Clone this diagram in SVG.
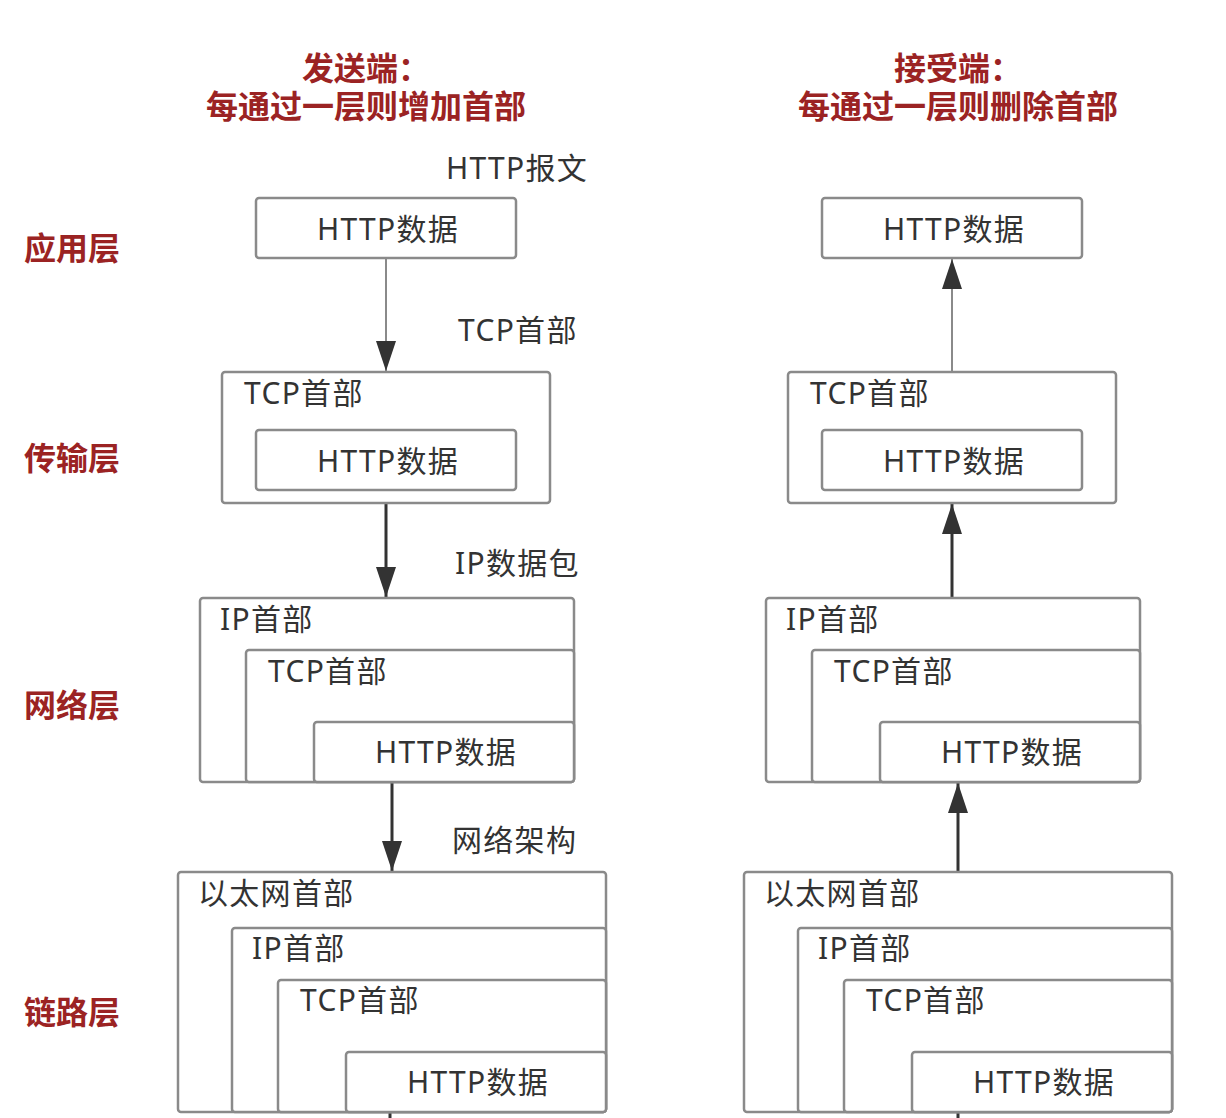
<svg xmlns="http://www.w3.org/2000/svg" width="1226" height="1118" viewBox="0 0 1226 1118">
<style>
.bg{fill:#ffffff}
.box{fill:#ffffff;stroke:#8a8a8a;stroke-width:2.5}
.t{font-family:"Noto Sans","Noto Sans CJK SC",sans-serif;font-size:30px;fill:#333333;letter-spacing:1.3px}
.m{text-anchor:middle}
.red{font-family:"Noto Sans CJK SC","Noto Sans",sans-serif;font-size:32px;font-weight:bold;fill:#9b2323}
.ttl{font-family:"Liberation Sans","Noto Sans CJK SC",sans-serif;font-size:32px;font-weight:bold;fill:#9b2323;text-anchor:middle}
.thin{stroke:#8a8a8a;stroke-width:2;fill:none}
.thick{stroke:#333333;stroke-width:3;fill:none}
</style>
<defs>
<marker id="ah" viewBox="0 0 30 20" refX="30" refY="10" markerWidth="30" markerHeight="20" markerUnits="userSpaceOnUse" orient="auto">
<path d="M0,0 L30,10 L0,20 Z" fill="#333333"/>
</marker>
</defs>
<rect class="bg" x="0" y="0" width="1226" height="1118"/>

<g id="titles">
<text class="ttl" x="366" y="80">发送端：</text>
<text class="ttl" x="366" y="118">每通过一层则增加首部</text>
<text class="ttl" x="958" y="80">接受端：</text>
<text class="ttl" x="958" y="118">每通过一层则删除首部</text>
</g>

<g id="layer-labels">
<text class="red" x="24" y="260">应用层</text>
<text class="red" x="24" y="470">传输层</text>
<text class="red" x="24" y="717">网络层</text>
<text class="red" x="24" y="1024">链路层</text>
</g>

<g id="connectors">
<line class="thin" x1="386" y1="258" x2="386" y2="371" marker-end="url(#ah)"/>
<line class="thick" x1="386" y1="504" x2="386" y2="597" marker-end="url(#ah)"/>
<line class="thick" x1="392" y1="783" x2="392" y2="871" marker-end="url(#ah)"/>
<line class="thick" x1="390" y1="1112" x2="390" y2="1118"/>
<line class="thin" x1="952" y1="371" x2="952" y2="259" marker-end="url(#ah)"/>
<line class="thick" x1="952" y1="597" x2="952" y2="504" marker-end="url(#ah)"/>
<line class="thick" x1="958" y1="871" x2="958" y2="783" marker-end="url(#ah)"/>
<line class="thick" x1="958" y1="1112" x2="958" y2="1118"/>
</g>

<g id="edge-labels">
<text class="t" x="446" y="179">HTTP报文</text>
<text class="t" x="458" y="341">TCP首部</text>
<text class="t" x="455" y="574">IP数据包</text>
<text class="t" x="452" y="851">网络架构</text>
</g>

<g id="send-app">
<rect class="box" x="256" y="198" width="260" height="60" rx="3"/>
<text class="t m" x="388" y="240">HTTP数据</text>
</g>

<g id="send-transport">
<rect class="box" x="222" y="372" width="328" height="131" rx="3"/>
<text class="t" x="244" y="404">TCP首部</text>
<rect class="box" x="256" y="430" width="260" height="60" rx="3"/>
<text class="t m" x="388" y="472">HTTP数据</text>
</g>

<g id="send-network">
<rect class="box" x="200" y="598" width="374" height="184" rx="3"/>
<text class="t" x="220" y="630">IP首部</text>
<rect class="box" x="246" y="650" width="328" height="132" rx="3"/>
<text class="t" x="268" y="682">TCP首部</text>
<rect class="box" x="314" y="722" width="260" height="60" rx="3"/>
<text class="t m" x="446" y="763">HTTP数据</text>
</g>

<g id="send-link">
<rect class="box" x="178" y="872" width="428" height="240" rx="3"/>
<text class="t" x="198" y="904">以太网首部</text>
<rect class="box" x="232" y="928" width="374" height="184" rx="3"/>
<text class="t" x="252" y="959">IP首部</text>
<rect class="box" x="278" y="980" width="328" height="132" rx="3"/>
<text class="t" x="300" y="1011">TCP首部</text>
<rect class="box" x="346" y="1052" width="260" height="60" rx="3"/>
<text class="t m" x="478" y="1093">HTTP数据</text>
</g>

<g id="recv-app">
<rect class="box" x="822" y="198" width="260" height="60" rx="3"/>
<text class="t m" x="954" y="240">HTTP数据</text>
</g>

<g id="recv-transport">
<rect class="box" x="788" y="372" width="328" height="131" rx="3"/>
<text class="t" x="810" y="404">TCP首部</text>
<rect class="box" x="822" y="430" width="260" height="60" rx="3"/>
<text class="t m" x="954" y="472">HTTP数据</text>
</g>

<g id="recv-network">
<rect class="box" x="766" y="598" width="374" height="184" rx="3"/>
<text class="t" x="786" y="630">IP首部</text>
<rect class="box" x="812" y="650" width="328" height="132" rx="3"/>
<text class="t" x="834" y="682">TCP首部</text>
<rect class="box" x="880" y="722" width="260" height="60" rx="3"/>
<text class="t m" x="1012" y="763">HTTP数据</text>
</g>

<g id="recv-link">
<rect class="box" x="744" y="872" width="428" height="240" rx="3"/>
<text class="t" x="764" y="904">以太网首部</text>
<rect class="box" x="798" y="928" width="374" height="184" rx="3"/>
<text class="t" x="818" y="959">IP首部</text>
<rect class="box" x="844" y="980" width="328" height="132" rx="3"/>
<text class="t" x="866" y="1011">TCP首部</text>
<rect class="box" x="912" y="1052" width="260" height="60" rx="3"/>
<text class="t m" x="1044" y="1093">HTTP数据</text>
</g>
</svg>
